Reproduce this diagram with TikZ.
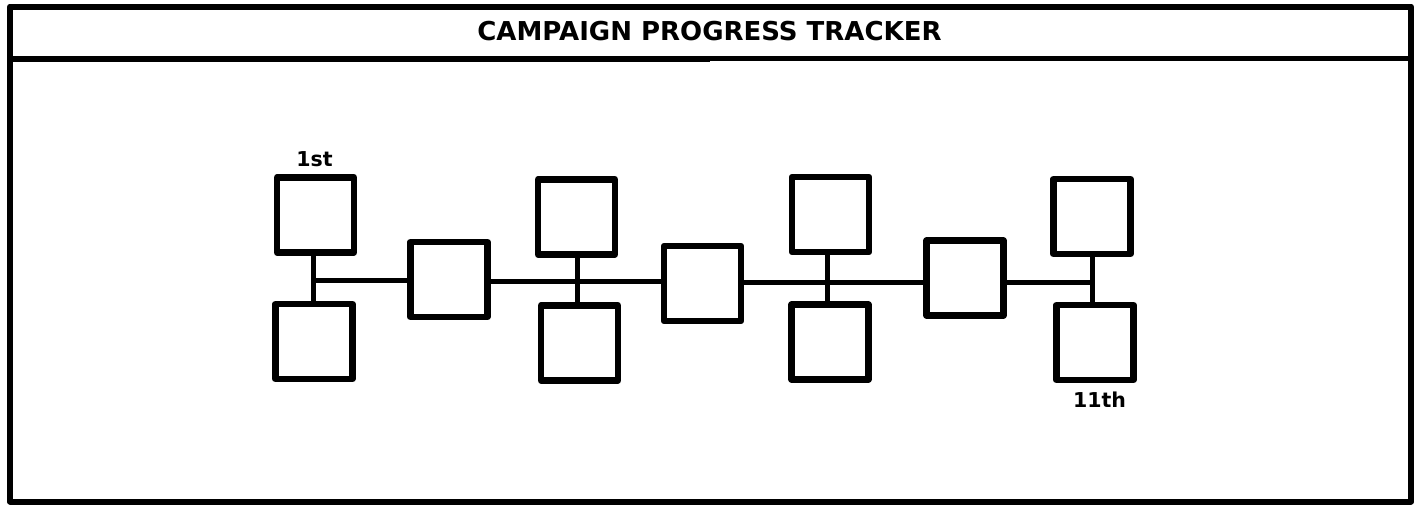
\documentclass[tikz,border=0pt]{standalone}
\usepackage{fontspec}
\setmainfont{DejaVu Sans}
\begin{document}
\begin{tikzpicture}[x=1pt,y=-1pt,
  stage/.style={draw, line width=6.5pt, line join=round, minimum width=77pt, minimum height=75pt, inner sep=0pt, outer sep=0pt},
  link/.style={line width=5pt},
  frameline/.style={line width=6pt},
  lbl/.style={font=\fontsize{20.5}{24}\selectfont\bfseries, inner sep=0pt},
  heading/.style={font=\fontsize{26}{30}\selectfont\bfseries, inner sep=0pt}]
\useasboundingbox (0,0) rectangle (1419,504);
% outer frame and title band
\draw[frameline, line join=round] (10,6.5) rectangle (1411,501.5);
\draw[line width=6.5pt] (10,59) -- (710,59);
\draw[line width=5pt] (710,58) -- (1411,58);
\node[heading, anchor=base] (title) at (709.5,40) {CAMPAIGN PROGRESS TRACKER};
% stages
\node[stage] (b1) at (315.5,215) {};
\node[stage] (b2) at (314,341.5) {};
\node[stage] (b3) at (449,279.5) {};
\node[stage] (b4) at (576.5,217) {};
\node[stage] (b5) at (579.5,343) {};
\node[stage] (b6) at (702.5,283.5) {};
\node[stage] (b7) at (830.5,214.5) {};
\node[stage] (b8) at (830,342) {};
\node[stage] (b9) at (965,278) {};
\node[stage] (b10) at (1092,216.5) {};
\node[stage] (b11) at (1095,342.5) {};
% junctions
\coordinate (j1) at (313,280);
\coordinate (j2) at (577,281);
\coordinate (j3) at (827,282);
\coordinate (j4) at (1092,282);
% vertical links
\draw[link] (b1.south -| j1) -- (b2.north -| j1);
\draw[link] (b4.south -| j2) -- (b5.north -| j2);
\draw[link] (b7.south -| j3) -- (b8.north -| j3);
\draw[link] (b10.south -| j4) -- (b11.north -| j4);
% horizontal links
\draw[link] (j1) -- (j1 -| b3.west);
\draw[link] (b3.east |- j2) -- (j2) -- (j2 -| b6.west);
\draw[link] (b6.east |- j3) -- (j3) -- (j3 -| b9.west);
\draw[link] (b9.east |- j4) -- (j4);
% labels
\node[lbl, anchor=base] (first) at (314.5,166) {1st};
\node[lbl, anchor=base] (last) at (1099.5,407) {11th};
\end{tikzpicture}
\end{document}
